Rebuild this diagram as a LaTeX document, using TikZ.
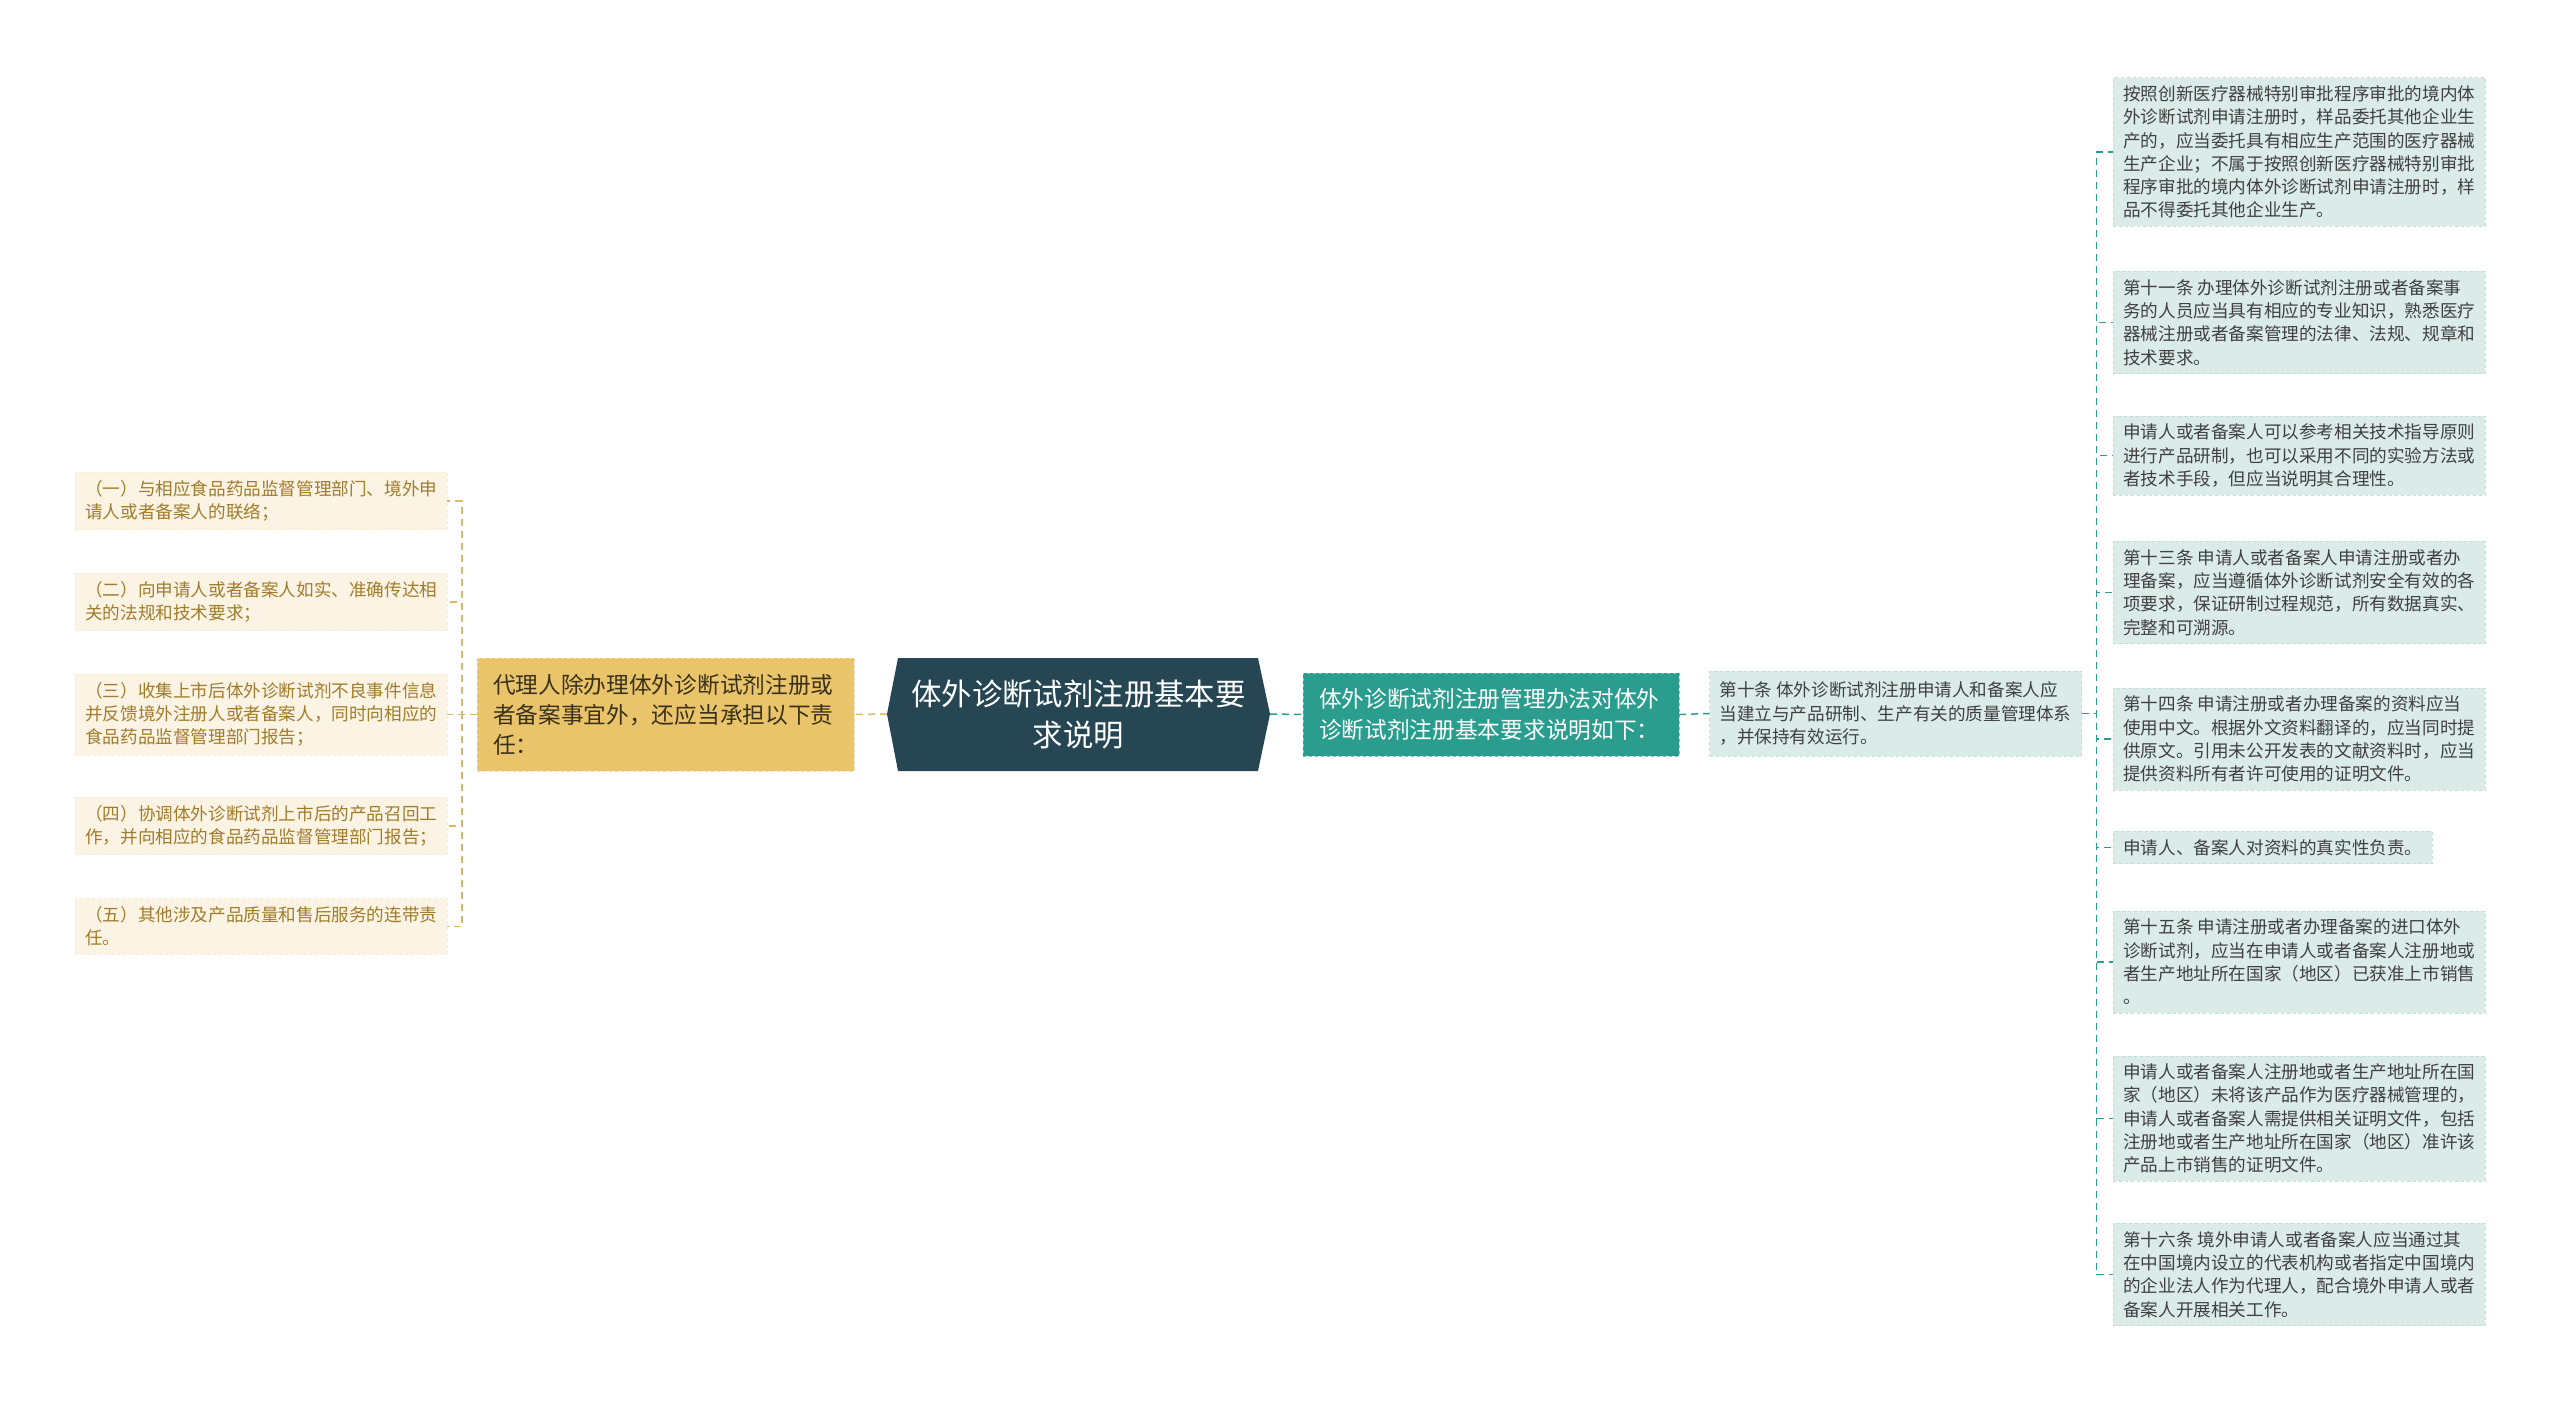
\documentclass[tikz,border=0pt]{standalone}
\usepackage{fontspec}
\newfontfamily\cjk{Noto Sans CJK SC}
\usetikzlibrary{calc}
\definecolor{rootbg}{HTML}{264653}
\definecolor{agentbg}{HTML}{E9C46A}
\definecolor{lawbg}{HTML}{2A9D8F}
\definecolor{leafbg}{HTML}{DAEBE8}
\definecolor{dutybg}{HTML}{FBF3E3}
\definecolor{dutytxt}{HTML}{A07C2C}
\definecolor{leaftxt}{HTML}{404040}
\definecolor{lline}{HTML}{D9BA62}
\definecolor{rline}{HTML}{2A9D8F}
\tikzset{every node/.style={font=\cjk},
  small/.style={font={\cjk\fontsize{17.6}{23.3}\selectfont}},
  duty/.style={small,fill=dutybg,draw=dutybg!85!agentbg,dashed,text=dutytxt,
    align=left,inner xsep=10pt,inner ysep=8pt,anchor=west},
  leaf/.style={small,fill=leafbg,draw=leafbg!85!lawbg,dashed,text=leaftxt,
    align=left,inner xsep=10pt,inner ysep=8pt,anchor=west},
  lconn/.style={lline,line width=1.5pt,dash pattern=on 7pt off 5pt},
  rconn/.style={rline,line width=1.5pt,dash pattern=on 7pt off 5pt}}

\begin{document}
\begin{tikzpicture}[x=1pt,y=-1pt]
  \useasboundingbox (0,0) rectangle (2560,1406);
  % root
  \fill[rootbg] (887,714) -- (898,658) -- (1258,658) -- (1270,714)
    -- (1258,771) -- (898,771) -- cycle;
  \coordinate (rootW) at (887,714);
  \coordinate (rootE) at (1270,714);
  \node[text=white,align=center,font={\cjk\fontsize{30.4}{41}\selectfont}]
    (root) at (1078.5,714) {体外诊断试剂注册基本要\\求说明};
  % first level
  \node[fill=agentbg,draw=agentbg!60!white,dashed,text=black!75!agentbg,
    text width=345pt,inner xsep=16pt,minimum height=113pt,align=left,
    font={\cjk\fontsize{22.7}{30}\selectfont}]
    (agent) at (665.5,714.5)
    {代理人除办理体外诊断试剂注册或\\者备案事宜外，还应当承担以下责\\任：};
  \node[fill=lawbg,draw=lawbg!60!white,dashed,text=white,
    text width=344pt,inner xsep=16pt,minimum height=83pt,align=left,
    font={\cjk\fontsize{22.7}{31}\selectfont}]
    (law) at (1491,714.5)
    {体外诊断试剂注册管理办法对体外\\诊断试剂注册基本要求说明如下：};
  \node[leaf,anchor=center,minimum height=85pt] (tenth) at (1895.5,713.5)
    {第十条 体外诊断试剂注册申请人和备案人应\\当建立与产品研制、生产有关的质量管理体系\\，并保持有效运行。};
  \draw[lconn] (rootW) -- (agent.east);
  \draw[rconn] (rootE) -- (law.west);
  \draw[rconn] (law.east) -- (tenth.west);
  % duties of the agent
  \foreach \y/\t [count=\i] in {
    501/{（一）与相应食品药品监督管理部门、境外申\\请人或者备案人的联络；},
    602/{（二）向申请人或者备案人如实、准确传达相\\关的法规和技术要求；},
    714.5/{（三）收集上市后体外诊断试剂不良事件信息\\并反馈境外注册人或者备案人，同时向相应的\\食品药品监督管理部门报告；},
    826/{（四）协调体外诊断试剂上市后的产品召回工\\作，并向相应的食品药品监督管理部门报告；},
    926.5/{（五）其他涉及产品质量和售后服务的连带责\\任。}}
  {
    \node[duty] (l\i) at (75,\y) {\t};
    \draw[lconn] (agent.west) -- ++(-15,0) |- (l\i.east);
  }
  % articles
  \foreach \y/\t [count=\i] in {
    152/{按照创新医疗器械特别审批程序审批的境内体\\外诊断试剂申请注册时，样品委托其他企业生\\产的，应当委托具有相应生产范围的医疗器械\\生产企业；不属于按照创新医疗器械特别审批\\程序审批的境内体外诊断试剂申请注册时，样\\品不得委托其他企业生产。},
    322.5/{第十一条 办理体外诊断试剂注册或者备案事\\务的人员应当具有相应的专业知识，熟悉医疗\\器械注册或者备案管理的法律、法规、规章和\\技术要求。},
    455.5/{申请人或者备案人可以参考相关技术指导原则\\进行产品研制，也可以采用不同的实验方法或\\者技术手段，但应当说明其合理性。},
    592.5/{第十三条 申请人或者备案人申请注册或者办\\理备案，应当遵循体外诊断试剂安全有效的各\\项要求，保证研制过程规范，所有数据真实、\\完整和可溯源。},
    739/{第十四条 申请注册或者办理备案的资料应当\\使用中文。根据外文资料翻译的，应当同时提\\供原文。引用未公开发表的文献资料时，应当\\提供资料所有者许可使用的证明文件。},
    847.5/{申请人、备案人对资料的真实性负责。},
    962/{第十五条 申请注册或者办理备案的进口体外\\诊断试剂，应当在申请人或者备案人注册地或\\者生产地址所在国家（地区）已获准上市销售\\。},
    1118.5/{申请人或者备案人注册地或者生产地址所在国\\家（地区）未将该产品作为医疗器械管理的，\\申请人或者备案人需提供相关证明文件，包括\\注册地或者生产地址所在国家（地区）准许该\\产品上市销售的证明文件。},
    1274.5/{第十六条 境外申请人或者备案人应当通过其\\在中国境内设立的代表机构或者指定中国境内\\的企业法人作为代理人，配合境外申请人或者\\备案人开展相关工作。}}
  {
    \node[leaf] (r\i) at (2113,\y) {\t};
    \draw[rconn] (tenth.east) -- ++(15,0) |- (r\i.west);
  }
\end{tikzpicture}
\end{document}
